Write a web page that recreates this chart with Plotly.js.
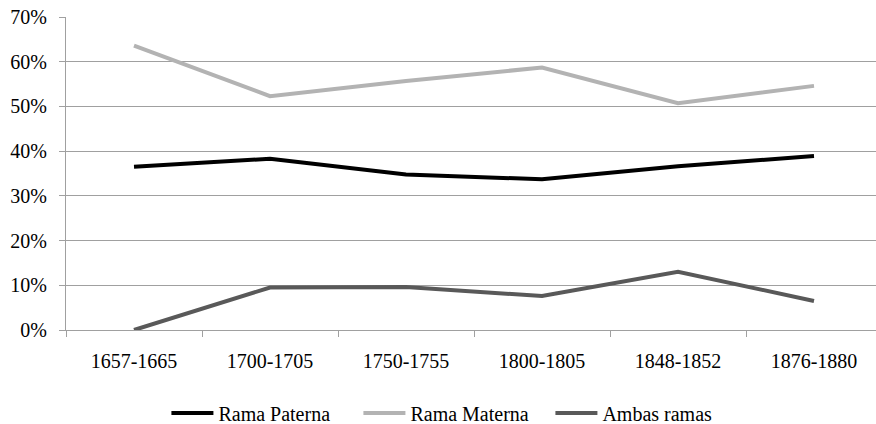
<!DOCTYPE html>
<html>
<head>
<meta charset="utf-8">
<script src="https://cdn.plot.ly/plotly-3.0.1.min.js"></script>
<style>
html,body{margin:0;padding:0;overflow:hidden;background:#fff;width:876px;height:424px;}
#chart{width:890px;height:424px;}
#chart svg text{font-family:"Liberation Serif","Times New Roman",serif !important;}
</style>
</head>
<body>
<div id="chart"></div>
<script>
var categories = ["1657-1665","1700-1705","1750-1755","1800-1805","1848-1852","1876-1880"];
var ramaPaterna = [0.365, 0.383, 0.348, 0.337, 0.366, 0.389];
var ramaMaterna = [0.636, 0.523, 0.557, 0.587, 0.507, 0.546];
var ambasRamas  = [0.000, 0.095, 0.096, 0.076, 0.130, 0.065];

var seriesNames = ["Rama Paterna","Rama Materna","Ambas ramas"];
var seriesColors = ["#000000","#b3b3b3","#595959"];
var seriesValues = [ramaPaterna, ramaMaterna, ambasRamas];

var traces = seriesValues.map(function(v,i){
  return {
    type:"scatter", mode:"lines", x:categories, y:v, name:seriesNames[i],
    line:{color:seriesColors[i], width:4}, hoverinfo:"x+y"
  };
});

var font = {family:"Liberation Serif", size:20, color:"#000"};

var layout = {
  width:890, height:424,
  margin:{l:66, r:8, t:17, b:94, autoexpand:false},
  paper_bgcolor:"#fff", plot_bgcolor:"#fff",
  font:font,
  showlegend:true,
  legend:{orientation:"h", x:0.476, xanchor:"center", yref:"container", y:0.026, yanchor:"middle",
          font:font, itemwidth:42, entrywidth:135, traceorder:"normal"},
  xaxis:{
    type:"category", range:[-0.5,5.5], tickson:"boundaries", ticks:"outside", ticklen:6, tickcolor:"#a0a0a0",
    showline:true, linecolor:"#a0a0a0", linewidth:1, showgrid:false, zeroline:false,
    tickfont:font, ticklabelstandoff:13, fixedrange:true
  },
  yaxis:{
    range:[0,0.7], dtick:0.1, tick0:0, tickformat:".0%", ticks:"outside", ticklen:6,
    tickcolor:"#a0a0a0", showline:true, linecolor:"#a0a0a0", linewidth:1,
    showgrid:true, gridcolor:"#a0a0a0", gridwidth:1, zeroline:false,
    tickfont:font, ticklabelstandoff:8, fixedrange:true
  }
};

Plotly.newPlot("chart", traces, layout, {displayModeBar:false, staticPlot:true});
</script>
</body>
</html>
